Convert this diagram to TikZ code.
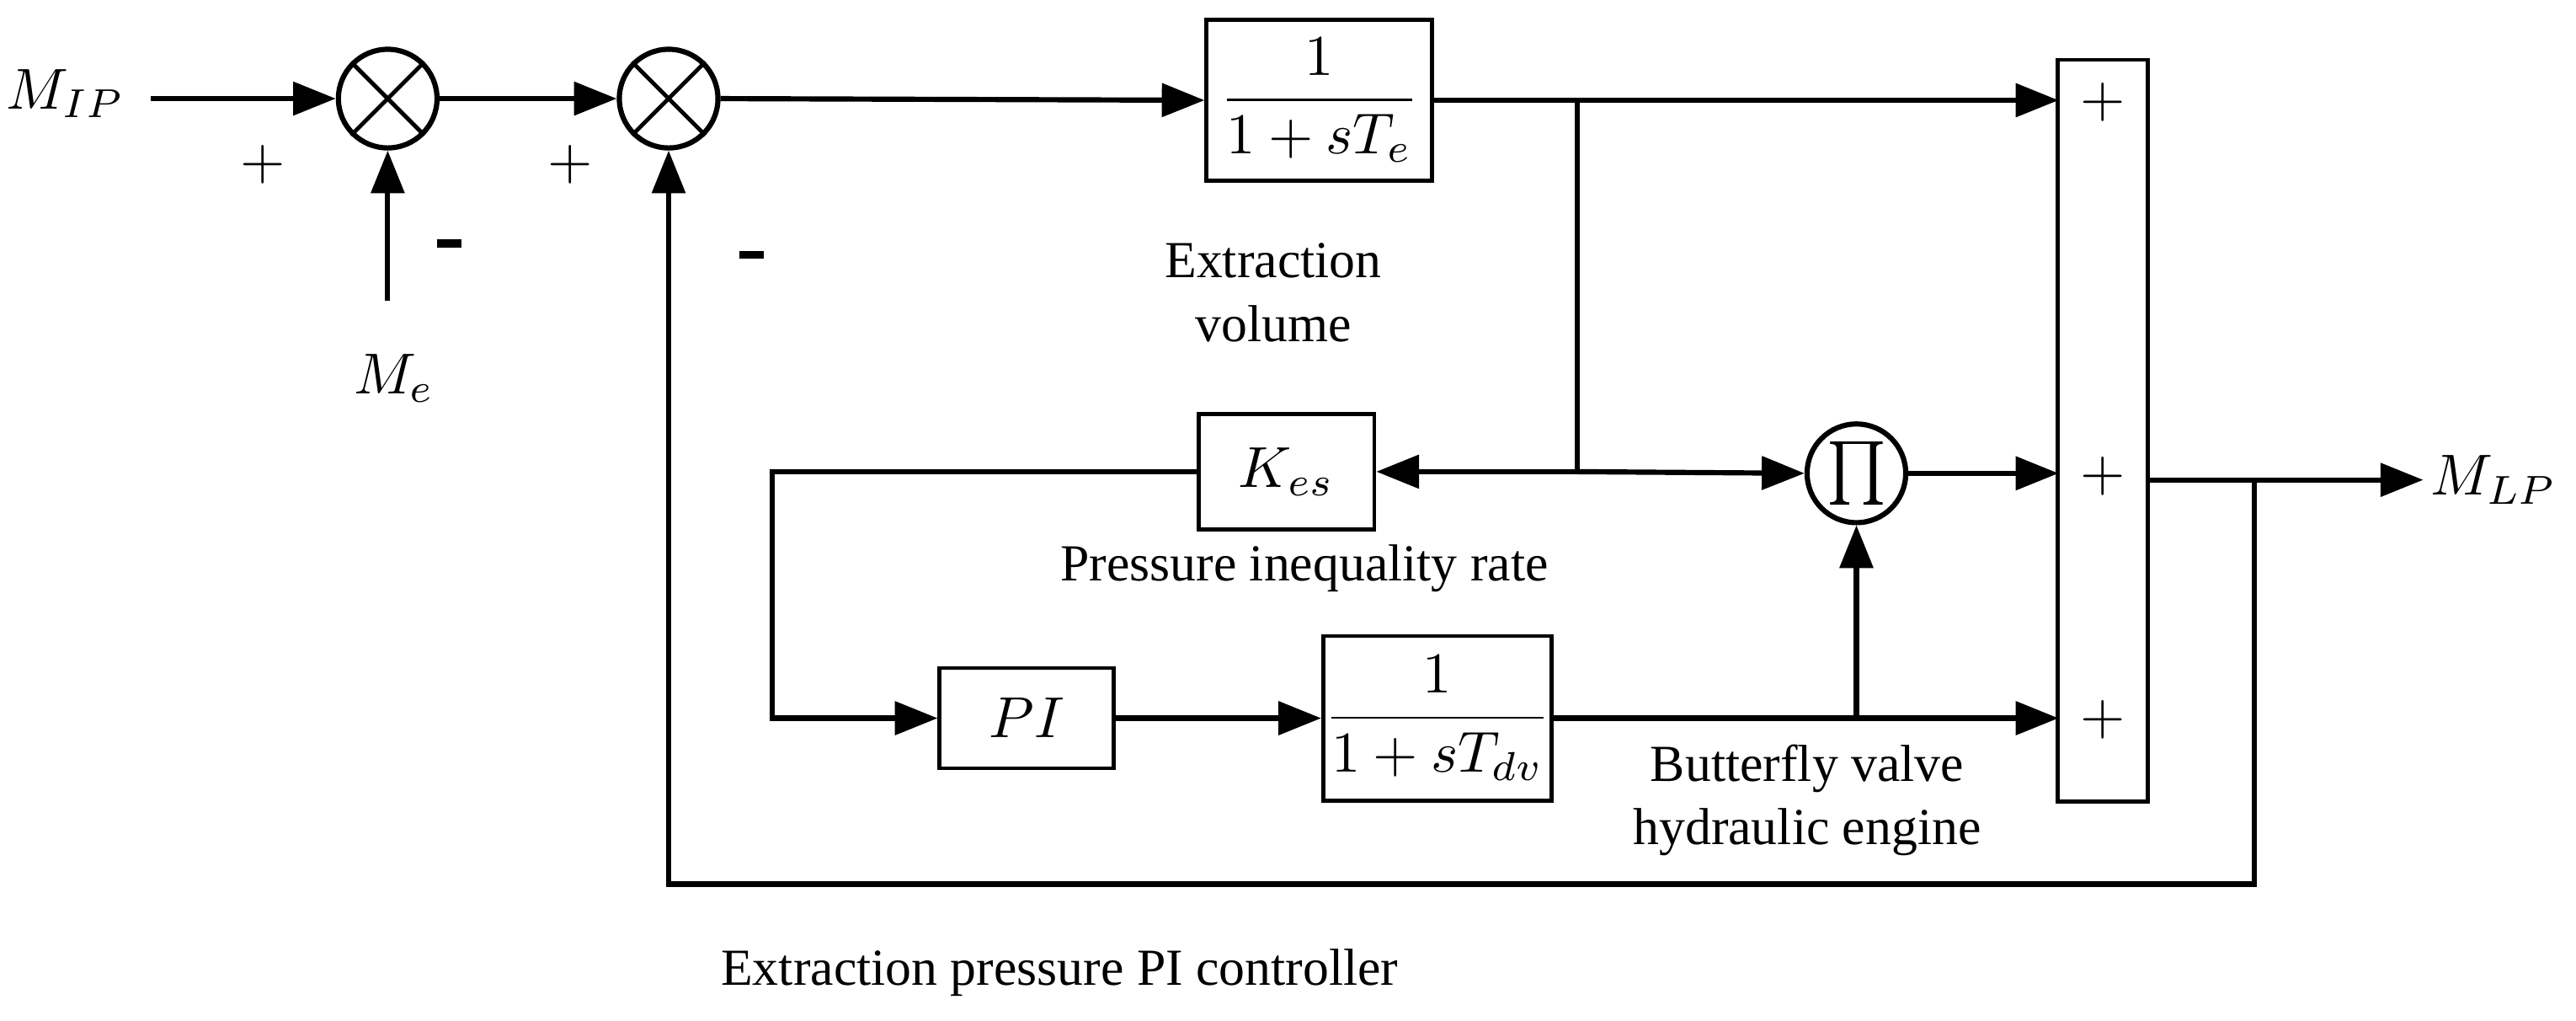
\documentclass[tikz,border=0pt]{standalone}
\usepackage{fontspec}
\setmainfont{Liberation Serif}
\usepackage{amsmath}
\usetikzlibrary{arrows.meta}
\begin{document}
\begin{tikzpicture}[x=0.01cm,y=-0.01cm,
  ar/.style={line width=0.9pt,-{Triangle[length=0.26cm,width=0.2cm]}},
  ln/.style={line width=0.9pt},
  blk/.style={draw,line width=0.7pt,inner sep=0pt},
  sumc/.style={draw,circle,line width=0.9pt,minimum size=0.6cm,inner sep=0pt},
  lab/.style={font=\fontsize{9}{11}\selectfont,align=center},
  sg/.style={font=\sffamily\fontsize{10}{12}\selectfont}]
\useasboundingbox (0,0) rectangle (1568,621);
% nodes
\node[lab,font=\fontsize{10}{12}\selectfont] (mip) at (40,57) {$M_{IP}$};
\node[sumc] (s1) at (236,60) {};
\draw[line width=0.7pt] (s1.north west)--(s1.south east) (s1.north east)--(s1.south west);
\node[sumc] (s2) at (407,60) {};
\draw[line width=0.7pt] (s2.north west)--(s2.south east) (s2.north east)--(s2.south west);
\node[lab,font=\fontsize{10}{12}\selectfont] (me) at (240,230) {$M_e$};
\coordinate (mes) at (236,183);
\node[sg] at (160,100) {+};
\coordinate (m1a) at (266,148); \coordinate (m1b) at (281,148);
\draw[line width=1.4pt] (m1a) -- (m1b);
\node[sg] at (347,100) {+};
\coordinate (m2a) at (450,155); \coordinate (m2b) at (465,155);
\draw[line width=1.4pt] (m2a) -- (m2b);
\node[blk,minimum width=1.37cm,minimum height=0.98cm] (b1) at (803,61) {\fontsize{10}{12}\selectfont$\dfrac{1}{1+sT_e}$};
\node[blk,minimum width=0.55cm,minimum height=4.51cm] (big) at (1280,262) {};
\node[sg] at (1280,62) {+};
\node[sg] at (1280,290) {+};
\node[sg] at (1280,438) {+};
\node[lab] at (775,178) {Extraction\\volume};
\node[blk,minimum width=1.07cm,minimum height=0.7cm] (kes) at (783,287) {\fontsize{10}{12}\selectfont$K_{es}$};
\node[lab] (pir) at (794,346) {Pressure inequality rate};
\node[sumc] (pi) at (1130,288) {\fontsize{11}{12}\selectfont$\prod$};
\node[blk,minimum width=1.06cm,minimum height=0.61cm] (pic) at (625,437) {\fontsize{10}{12}\selectfont$PI$};
\node[blk,minimum width=1.39cm,minimum height=1.0cm] (b2) at (875,437) {\fontsize{10}{12}\selectfont$\dfrac{1}{1+sT_{dv}}$};
\node[lab] at (1100,487) {Butterfly valve\\hydraulic engine};
\node[lab,font=\fontsize{10}{12}\selectfont] (mlp) at (1518,292) {$M_{LP}$};
\node[lab] at (645,592) {Extraction pressure PI controller};
\coordinate (j1) at (960,61);
\coordinate (j2) at (960,287);
\coordinate (j3) at (1130,437);
\coordinate (j4) at (1372,292);
\coordinate (e1) at (1253,61);
\coordinate (e2) at (1253,288);
\coordinate (e3) at (1253,437);
\coordinate (e4) at (1308,292);
\coordinate (e5) at (1475,292);
\coordinate (mip0) at (92,60);
% connectors
\draw[ar] (mip0) -- (s1.west);
\draw[ar] (mes) -- (s1.south);
\draw[ar] (s1.east) -- (s2.west);
\draw[ar] (s2.east) -- (b1.west);
\draw[ar] (b1.east) -- (e1);
\draw[ln] (j1) -- (j2);
\draw[ar] (j2) -- (kes.east);
\draw[ar] (j2) -- (pi.west);
\draw[ar] (pi.east) -- (e2);
\draw[ar] (kes.west) -- (470,287) -- (470,437) -- (pic.west);
\draw[ar] (pic.east) -- (b2.west);
\draw[ar] (b2.east) -- (e3);
\draw[ar] (j3) -- (pi.south);
\draw[ar] (e4) -- (e5);
\draw[ar] (j4) -- (1372,538) -- (407,538) -- (s2.south);
\end{tikzpicture}
\end{document}
